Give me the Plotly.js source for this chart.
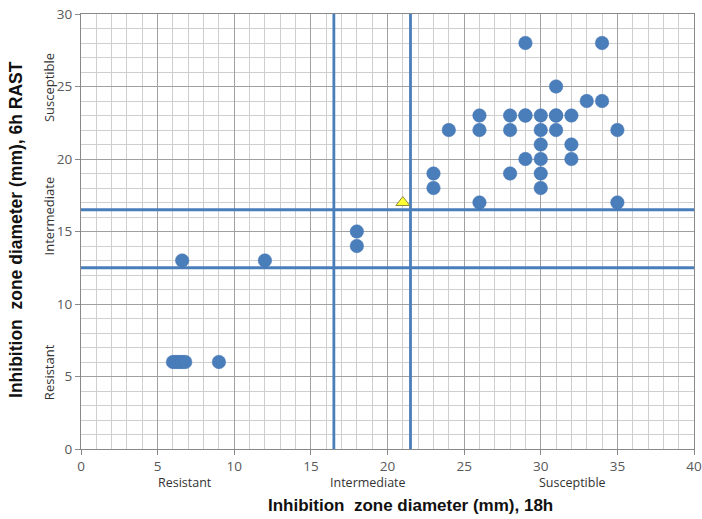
<!DOCTYPE html>
<html>
<head>
<meta charset="utf-8">
<script src="https://cdn.plot.ly/plotly-3.0.1.min.js"></script>
<style>html,body{margin:0;padding:0;background:#fff;}#chart{width:702px;height:519px;}</style>
</head>
<body>
<div id="chart"></div>
<script>
// Isolates: inhibition zone diameter 18h (x) vs 6h RAST (y)
const isolateX18h = [29, 34, 31, 33, 34,
  26, 28, 29, 29, 30, 31, 31, 32,
  24, 26, 28, 30, 31, 35,
  30, 32,
  29, 30, 32,
  23, 28, 30,
  23, 30,
  26, 35,
  18, 18,
  6.6, 12,
  6.0, 6.2, 6.4, 6.6, 6.8, 9];
const isolateY6h = [28, 28, 25, 24, 24,
  23, 23, 23, 23, 23, 23, 23, 23,
  22, 22, 22, 22, 22, 22,
  21, 21,
  20, 20, 20,
  19, 19, 19,
  18, 18,
  17, 17,
  15, 14,
  13, 13,
  6, 6, 6, 6, 6, 6];
// special isolate (triangle)
const specialX = [21];
const specialY = [17];
// breakpoints
const xBreakpoints = [16.5, 21.5];
const yBreakpoints = [12.5, 16.5];
const xRange = [0, 40];
const yRange = [0, 30];
const xCategoryLabels = ['Resistant', 'Intermediate', 'Susceptible'];
const yCategoryLabels = ['Resistant', 'Intermediate', 'Susceptible'];
const xTitle = 'Inhibition  zone diameter (mm), 18h';
const yTitle = 'Inhibition  zone diameter (mm), 6h RAST';

const lineColor = '#4a7ebb';
const traces = [];
xBreakpoints.forEach(v => traces.push({x: [v, v], y: yRange, mode: 'lines', line: {color: lineColor, width: 2.8}, hoverinfo: 'skip', showlegend: false}));
yBreakpoints.forEach(v => traces.push({x: xRange, y: [v, v], mode: 'lines', line: {color: lineColor, width: 2.8}, hoverinfo: 'skip', showlegend: false}));
traces.push({x: isolateX18h, y: isolateY6h, mode: 'markers', type: 'scatter', showlegend: false,
  marker: {symbol: 'circle', size: 13.5, color: '#4a7ebb', line: {color: '#4373b0', width: 0.5}}});
traces.push({x: specialX, y: specialY, mode: 'markers', type: 'scatter', showlegend: false,
  marker: {symbol: 'triangle-up', size: 12, color: '#ffff33', line: {color: '#8a8a40', width: 1}}});

const font = 'Liberation Sans, Arial, sans-serif';
const labelFont = 'Open Sans, Liberation Sans, sans-serif';
const xPos = [0.170, 0.468, 0.801];
const yPos = [0.177, 0.535, 0.83];
const annotations = [];
xCategoryLabels.forEach((t, i) => annotations.push({text: t, xref: 'paper', yref: 'paper', x: xPos[i], y: -0.078, showarrow: false, font: {family: labelFont, size: 12.5, color: '#333'}, xanchor: 'center', yanchor: 'middle'}));
yCategoryLabels.forEach((t, i) => annotations.push({text: t, xref: 'paper', yref: 'paper', x: -0.052, y: yPos[i], textangle: -90, showarrow: false, font: {family: labelFont, size: 13, color: '#333'}, xanchor: 'center', yanchor: 'middle'}));
annotations.push({text: '<b>' + xTitle + '</b>', xref: 'paper', yref: 'paper', x: 0.537, y: -0.129, showarrow: false, font: {family: font, size: 17, color: '#111'}, xanchor: 'center', yanchor: 'middle'});
annotations.push({text: '<b>' + yTitle + '</b>', xref: 'paper', yref: 'paper', x: -0.105, y: 0.505, textangle: -90, showarrow: false, font: {family: font, size: 17.5, color: '#111'}, xanchor: 'center', yanchor: 'middle'});

const layout = {
  width: 702, height: 519,
  margin: {l: 81, r: 8, t: 14, b: 70},
  paper_bgcolor: '#fff', plot_bgcolor: '#fff',
  showlegend: false,
  xaxis: {range: xRange, dtick: 5, tick0: 0, showgrid: true, gridcolor: '#a0a0a0', gridwidth: 1,
    minor: {dtick: 1, showgrid: true, gridcolor: '#cfcfcf', gridwidth: 1},
    zeroline: false, showline: true, linecolor: '#888', mirror: true,
    ticks: 'outside', ticklen: 5, tickcolor: '#888',
    tickfont: {family: labelFont, size: 13.5, color: '#595959'}},
  yaxis: {range: yRange, dtick: 5, tick0: 0, showgrid: true, gridcolor: '#a0a0a0', gridwidth: 1,
    minor: {dtick: 1, showgrid: true, gridcolor: '#cfcfcf', gridwidth: 1},
    zeroline: false, showline: true, linecolor: '#888', mirror: true,
    ticks: 'outside', ticklen: 5, tickcolor: '#888',
    tickfont: {family: labelFont, size: 13.5, color: '#595959'}},
  annotations: annotations
};
Plotly.newPlot('chart', traces, layout, {displayModeBar: false, staticPlot: true});
</script>
</body>
</html>
